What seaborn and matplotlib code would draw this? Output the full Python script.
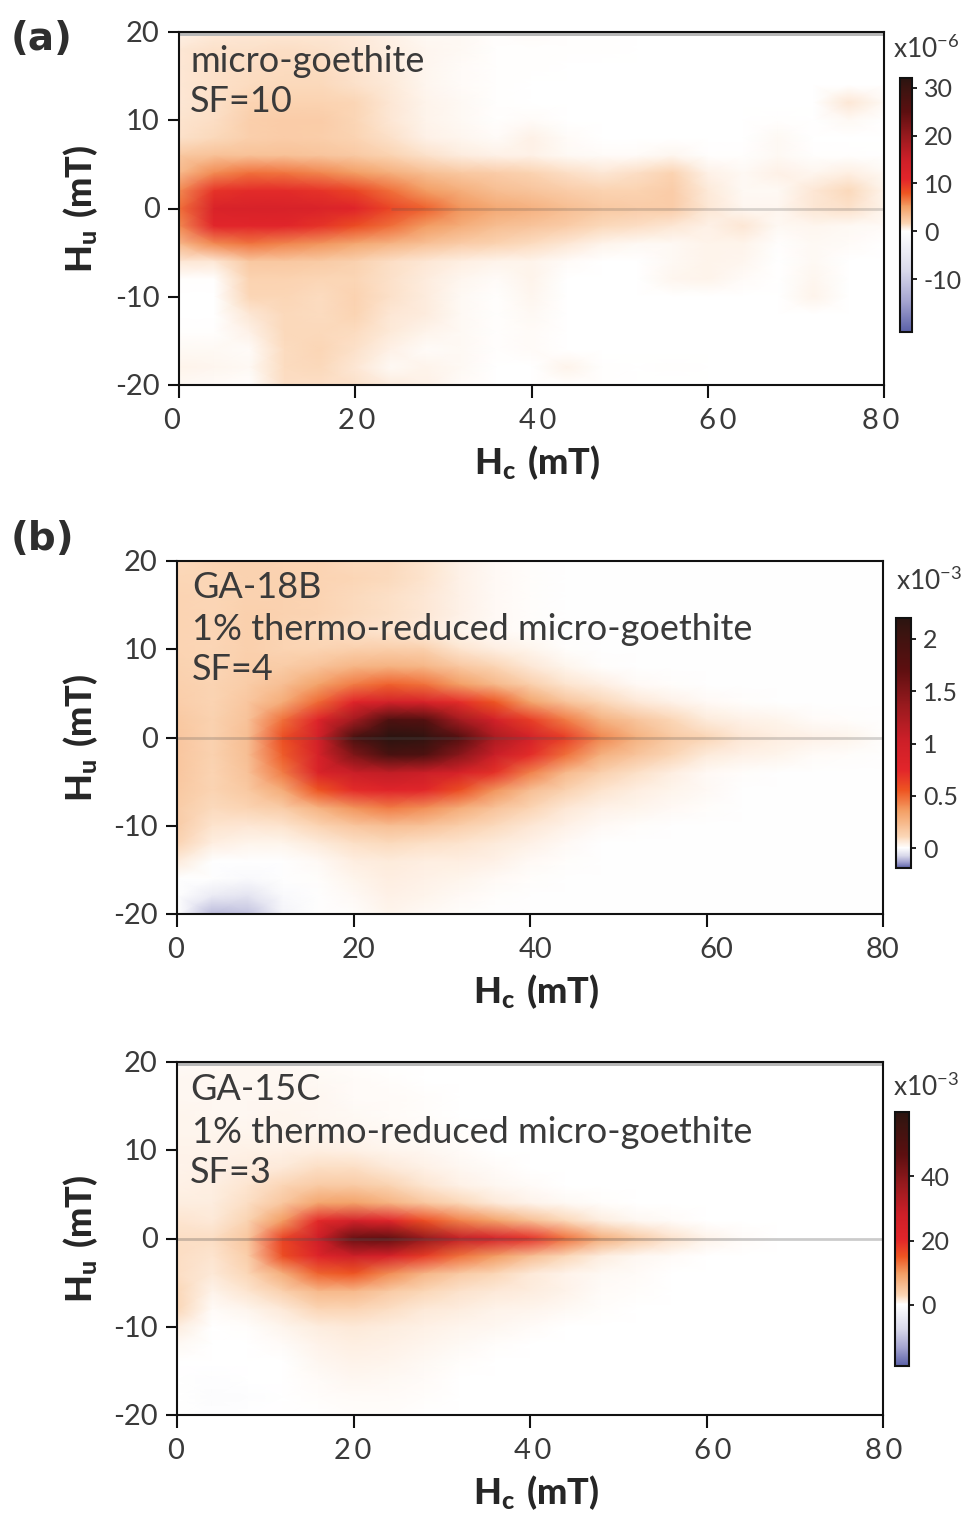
"""FORC diagrams of micro-goethite samples, drawn as smoothed seaborn heatmaps."""
import matplotlib
matplotlib.use('Agg')
import matplotlib.pyplot as plt
from matplotlib.colors import LinearSegmentedColormap
from matplotlib.transforms import ScaledTranslation
import numpy as np
import seaborn as sns

W, H = 963, 1515

HC_TICKS = [0, 20, 40, 60, 80]
HU_TICKS = [20, 10, 0, -10, -20]
HC_STEP = 4
HU_STEP = 2

# columns: Hc = 0, 4, ... 80 / rows: Hu = 20, 18, ... -20
GRID_A = [
    [.6, .9, 1.0, 1.0, 1.0, .9, .6, .3, .3, .1, .2, .1, .1, 0, 0, 0, 0, 0, 0, 0, 0],
    [1.0, 1.2, 1.2, 1.3, 1.2, 1.0, .7, .4, .3, .1, .1, .1, .1, 0, 0, 0, 0, 0, 0, 0, 0],
    [1.0, 1.2, 1.3, 1.4, 1.4, 1.1, .8, .4, .2, .1, .1, 0, 0, 0, 0, 0, 0, 0, 0, 0, 0],
    [1.0, 1.2, 1.4, 1.5, 1.5, 1.2, .9, .4, .2, .1, 0, 0, 0, 0, 0, 0, 0, 0, 0, 0, 0],
    [1.0, 1.2, 1.7, 1.8, 1.8, 1.6, 1.0, .5, .3, .1, 0, 0, 0, 0, 0, 0, 0, 0, 0, 1.0, .3],
    [1.1, 1.3, 2.0, 2.2, 2.2, 1.6, 1.0, .5, .3, .1, .2, 0, 0, 0, 0, 0, 0, .1, 0, .3, 0],
    [1.2, 1.5, 2.0, 2.2, 2.1, 1.7, 1.2, .6, .4, .2, .6, .2, 0, 0, 0, 0, 0, .3, 0, 0, 0],
    [2.5, 3.0, 3.0, 3.0, 2.8, 2.4, 1.8, 1.2, .8, .6, .6, .3, .2, .2, .4, .1, .1, .3, .1, .1, 0],
    [3.5, 6.0, 7.0, 6.8, 6.2, 5.2, 4.2, 3.2, 2.6, 2.2, 1.8, 1.3, 1.0, 1.3, 1.8, .6, .3, .6, .4, .7, .3],
    [6.0, 10.0, 10.5, 10.5, 10.0, 9.0, 7.0, 5.2, 4.2, 3.2, 2.8, 2.2, 1.8, 1.8, 2.2, .9, .3, .3, 1.0, 1.5, .5],
    [7.0, 12.5, 13.0, 13.0, 12.5, 11.5, 9.0, 7.5, 5.5, 4.5, 4.0, 3.2, 2.5, 2.2, 2.2, 1.0, .4, .4, 1.0, 1.2, .5],
    [6.0, 11.0, 11.0, 11.0, 10.0, 8.5, 7.0, 5.2, 4.2, 3.2, 2.8, 2.2, 1.5, 1.3, 1.0, .6, 1.0, .3, .4, .3, .2],
    [3.5, 6.0, 6.8, 6.2, 5.5, 4.6, 3.8, 3.0, 2.2, 1.8, 1.4, 1.0, .5, .3, .3, .5, .5, .1, .3, .2, 0],
    [1.0, 1.0, 2.6, 2.6, 2.3, 1.9, 1.3, 1.0, .7, .5, .5, .2, 0, 0, .3, .5, .4, 0, .3, 0, 0],
    [.1, .1, 1.8, 1.8, 1.6, 1.6, 1.2, .8, .4, .2, .5, 0, 0, 0, .4, .5, .2, 0, .4, 0, 0],
    [0, 0, 1.6, 1.6, 1.4, 1.8, 1.2, .8, .3, .1, .4, 0, 0, 0, 0, 0, 0, 0, .5, 0, 0],
    [0, 0, 1.0, 1.5, 1.4, 1.7, 1.0, .8, .3, .1, .3, 0, 0, 0, 0, 0, 0, 0, 0, 0, 0],
    [.1, .1, .6, 1.5, 1.5, 1.4, .9, .5, .3, .1, .2, 0, 0, 0, 0, 0, 0, 0, 0, 0, 0],
    [.3, .3, .2, 1.4, 1.6, 1.2, .6, .2, .3, .1, .2, 0, 0, 0, 0, 0, 0, 0, 0, 0, 0],
    [.5, .4, .3, 1.4, 1.5, 1.0, .3, .5, .3, 0, 0, .5, .1, 0, .1, 0, 0, 0, 0, 0, 0],
    [.3, .2, .1, 1.3, 1.3, 1.2, .8, .6, .2, 0, 0, .1, .1, 0, 0, 0, 0, 0, 0, 0, 0],
]

GRID_B = [
    [.10, .12, .13, .12, .12, .10, .10, .08, .04, .02, .01, 0, 0, 0, 0, 0, 0, 0, 0, 0, 0],
    [.11, .11, .13, .13, .12, .11, .10, .08, .04, .02, .01, 0, 0, 0, 0, 0, 0, 0, 0, 0, 0],
    [.12, .11, .13, .13, .12, .10, .09, .07, .04, .02, .01, 0, 0, 0, 0, 0, 0, 0, 0, 0, 0],
    [.12, .11, .14, .13, .12, .10, .09, .07, .04, .02, .01, 0, 0, 0, 0, 0, 0, 0, 0, 0, 0],
    [.12, .11, .14, .12, .10, .09, .08, .06, .03, .02, .01, 0, 0, 0, 0, 0, 0, 0, 0, 0, 0],
    [.12, .11, .14, .12, .12, .14, .15, .14, .08, .05, .03, .01, 0, 0, 0, 0, 0, 0, 0, 0, 0],
    [.13, .11, .15, .16, .20, .26, .28, .26, .18, .12, .07, .03, .01, 0, 0, 0, 0, 0, 0, 0, 0],
    [.14, .12, .16, .22, .34, .45, .52, .48, .36, .25, .15, .08, .05, .02, .01, 0, 0, 0, 0, 0, 0],
    [.15, .12, .18, .30, .50, .78, .95, .90, .72, .55, .34, .20, .11, .07, .04, .02, .01, 0, 0, 0, 0],
    [.17, .13, .20, .48, .80, 1.30, 1.85, 1.80, 1.30, .95, .65, .45, .28, .19, .11, .06, .04, .03, .015, .01, 0],
    [.18, .13, .22, .58, .95, 1.90, 2.20, 2.15, 1.80, 1.25, .95, .65, .42, .28, .17, .11, .07, .05, .04, .03, .01],
    [.18, .13, .22, .53, .90, 1.50, 1.90, 1.85, 1.45, 1.05, .72, .48, .28, .19, .11, .06, .04, .03, .015, .01, 0],
    [.18, .12, .20, .45, .85, 1.05, 1.10, 1.05, .90, .70, .44, .24, .14, .09, .05, .02, .01, 0, 0, 0, 0],
    [.17, .12, .17, .30, .55, .72, .78, .74, .58, .38, .22, .13, .08, .05, .03, .02, 0, 0, 0, 0, 0],
    [.16, .10, .12, .16, .27, .38, .45, .40, .30, .20, .12, .07, .04, .03, .02, .01, 0, 0, 0, 0, 0],
    [.16, .08, .07, .08, .12, .18, .22, .20, .15, .10, .07, .04, .02, .01, 0, 0, 0, 0, 0, 0, 0],
    [.12, .05, .03, .03, .06, .09, .10, .09, .08, .06, .04, .02, 0, 0, 0, 0, 0, 0, 0, 0, 0],
    [.06, 0, 0, 0, .02, .05, .06, .05, .05, .04, .02, .01, 0, 0, 0, 0, 0, 0, 0, 0, 0],
    [0, 0, -.01, 0, .01, .03, .05, .04, .03, .02, .01, 0, 0, 0, 0, 0, 0, 0, 0, 0, 0],
    [0, -.04, -.05, -.01, 0, .02, .04, .03, .02, .01, 0, 0, 0, 0, 0, 0, 0, 0, 0, 0, 0],
    [0, -.11, -.10, -.02, 0, .01, .03, .02, .01, 0, 0, 0, 0, 0, 0, 0, 0, 0, 0, 0, 0],
]

GRID_C = [
    [.3, .5, .6, .5, .4, .2, .1, .1, 0, 0, 0, 0, 0, 0, 0, 0, 0, 0, 0, 0, 0],
    [.6, .7, .7, .6, .5, .3, .2, .1, .1, 0, 0, 0, 0, 0, 0, 0, 0, 0, 0, 0, 0],
    [.7, .7, .7, .7, .6, .4, .3, .2, .1, 0, 0, 0, 0, 0, 0, 0, 0, 0, 0, 0, 0],
    [.8, .7, .7, .8, .7, .5, .4, .2, .1, 0, 0, 0, 0, 0, 0, 0, 0, 0, 0, 0, 0],
    [.9, .8, .9, .9, .8, .7, .5, .3, .2, .1, 0, 0, 0, 0, 0, 0, 0, 0, 0, 0, 0],
    [1.0, 1.0, 1.1, 1.2, 1.3, 1.2, .9, .6, .3, .1, 0, 0, 0, 0, 0, 0, 0, 0, 0, 0, 0],
    [1.0, 1.2, 1.4, 1.8, 2.5, 2.5, 1.8, 1.2, .6, .3, .1, 0, 0, 0, 0, 0, 0, 0, 0, 0, 0],
    [1.2, 1.3, 2.0, 3.2, 4.5, 4.5, 3.5, 2.0, 1.2, .6, .3, .1, 0, 0, 0, 0, 0, 0, 0, 0, 0],
    [1.5, 1.5, 2.5, 5.0, 9.0, 9.5, 7.5, 5.0, 3.0, 1.8, 1.0, .5, .2, .1, 0, 0, 0, 0, 0, 0, 0],
    [2.0, 1.8, 3.5, 10.0, 20.0, 26.0, 22.0, 16.0, 12.0, 9.5, 6.0, 3.0, 1.5, .7, .3, .1, .1, 0, 0, 0, 0],
    [2.5, 2.5, 5.0, 17.0, 28.0, 45.0, 46.0, 38.0, 30.0, 25.0, 19.0, 13.0, 8.0, 4.5, 2.2, 1.0, .4, .1, .1, .1, .1],
    [2.5, 2.0, 4.0, 16.0, 22.0, 28.0, 25.0, 18.0, 13.0, 10.0, 6.0, 3.0, 1.5, .7, .3, .1, .1, 0, 0, 0, 0],
    [2.5, 1.8, 3.0, 8.0, 14.0, 15.0, 11.0, 7.0, 4.5, 3.0, 1.8, 1.0, .5, .3, .1, .1, 0, 0, 0, 0, 0],
    [3.0, 1.0, 2.0, 3.8, 6.5, 6.5, 4.5, 3.0, 2.2, 1.8, 1.5, 1.0, .4, .2, .1, 0, 0, 0, 0, 0, 0],
    [3.0, .3, .8, 1.8, 3.2, 3.2, 2.6, 1.8, 1.5, 1.0, .8, .5, .2, .1, 0, 0, 0, 0, 0, 0, 0],
    [1.5, .1, .2, .8, 1.5, 1.7, 1.4, 1.2, .9, .7, .3, .1, 0, 0, 0, 0, 0, 0, 0, 0, 0],
    [.5, 0, .1, .3, 1.0, 1.3, 1.1, .8, .5, .2, .1, 0, 0, 0, 0, 0, 0, 0, 0, 0, 0],
    [.1, 0, 0, .1, .7, 1.0, .8, .5, .2, .1, 0, 0, 0, 0, 0, 0, 0, 0, 0, 0, 0],
    [0, -.2, 0, .1, .4, .7, .5, .3, .1, 0, 0, 0, 0, 0, 0, 0, 0, 0, 0, 0, 0],
    [0, -.5, -.2, .1, .2, .4, .3, .2, .1, 0, 0, 0, 0, 0, 0, 0, 0, 0, 0, 0, 0],
    [0, -.2, 0, 0, .1, .2, .2, .1, 0, 0, 0, 0, 0, 0, 0, 0, 0, 0, 0, 0, 0],
]

# colour bar stops: fraction of the top value -> colour, and fraction of the bottom value -> colour
POS_STOPS = [(0, '#ffffff'), (.03, '#fde8d6'), (.05, '#fbd6b6'), (.16, '#f3a066'), (.25, '#ee5522'),
             (.34, '#e2252a'), (.47, '#cc1f28'), (.62, '#981a1e'), (.78, '#5c0f10'), (.94, '#3a1410'),
             (1, '#2a1410')]
NEG_STOPS = [(0, '#ffffff'), (.4, '#d8d8ea'), (.7, '#a4a4d0'), (1, '#5a60a8')]

PANELS = [
    {'grid': GRID_A, 'box': (179, 32, 884, 385), 'cbar': (900, 78, 912, 332), 'vmin': -21, 'vmax': 32,
     'cticks': [-10, 0, 10, 20, 30], 'clabels': ['-10', '0', '10', '20', '30'], 'exp': '-6',
     'exp_at': (893, 58), 'notes': [('micro-goethite', 190, 72), ('SF=10', 190, 112)],
     'xoff': [-7, 1, 6, 10, -3], 'spaced': True, 'line_from': 24, 'line_alpha': .22, 'band': True},
    {'grid': GRID_B, 'box': (177, 561, 883, 914), 'cbar': (896, 618, 911, 868), 'vmin': -.19, 'vmax': 2.2,
     'cticks': [0, .5, 1, 1.5, 2], 'clabels': ['0', '0.5', '1', '1.5', '2'], 'exp': '-3',
     'exp_at': (896, 590), 'notes': [('GA-18B', 192, 598), ('1% thermo-reduced micro-goethite', 192, 640),
                                     ('SF=4', 192, 680)],
     'xoff': [-1, 5, 6, 10, -1], 'spaced': False, 'line_from': 0, 'line_alpha': .25, 'band': False},
    {'grid': GRID_C, 'box': (177, 1062, 883, 1415), 'cbar': (895, 1112, 909, 1366), 'vmin': -19, 'vmax': 60,
     'cticks': [0, 20, 40], 'clabels': ['0', '20', '40'], 'exp': '-3',
     'exp_at': (893, 1096), 'notes': [('GA-15C', 190, 1100), ('1% thermo-reduced micro-goethite', 192, 1143),
                                      ('SF=3', 190, 1183)],
     'xoff': [-1, -1, 3, 6, 1], 'spaced': True, 'line_from': 0, 'line_alpha': .3, 'band': True},
]

sns.set_theme(style='ticks')
plt.rcParams.update({
    'font.family': ['Lato', 'DejaVu Sans'],
    'mathtext.fontset': 'custom',
    'mathtext.rm': 'Lato',
    'mathtext.bf': 'Lato:black',
    'text.color': '#2e2e2e',
    'xtick.color': '#111111',
    'ytick.color': '#111111',
})
TEXT_LIGHT = '#3a3a3a'


def panel_cmap(vmin, vmax):
    """Colour scale with white at zero, for a panel's own value range."""
    span = vmax - vmin
    stops = [((vmin * f - vmin) / span, c) for f, c in reversed(NEG_STOPS)]
    stops += [((vmax * f - vmin) / span, c) for f, c in POS_STOPS[1:]]
    return LinearSegmentedColormap.from_list('forc', stops, N=512)


def pixel_axes(fig, box):
    x0, y0, x1, y1 = box
    return fig.add_axes([x0 / W, 1 - y1 / H, (x1 - x0) / W, (y1 - y0) / H])


def draw_panel(fig, p):
    ax = pixel_axes(fig, p['box'])
    cax = pixel_axes(fig, p['cbar'])
    grid = np.array(p['grid'], dtype=float)

    sns.heatmap(grid, ax=ax, cbar_ax=cax, cmap=panel_cmap(p['vmin'], p['vmax']),
                vmin=p['vmin'], vmax=p['vmax'], shading='gouraud',
                xticklabels=False, yticklabels=False,
                cbar_kws={'ticks': p['cticks']})

    n_rows, n_cols = grid.shape
    ax.set_xlim(0, n_cols - 1)
    ax.set_ylim(n_rows - 1, 0)

    # the measurement artefact along Hu = 0, and the grey first row on top
    zero_row = (20 - 0) / HU_STEP
    ax.plot([p['line_from'] / HC_STEP, n_cols - 1], [zero_row, zero_row], color='#555555',
            alpha=p['line_alpha'], lw=2, solid_capstyle='butt')
    if p['band']:
        ax.axhline(0, color='#b8b8b8', lw=5)

    for spine in ax.spines.values():
        spine.set_visible(True)
        spine.set_linewidth(1.5)
        spine.set_color('#111111')

    ax.set_xticks([v / HC_STEP for v in HC_TICKS])
    if p['spaced']:
        ax.set_xticklabels([str(v).replace('', '\u2009').strip('\u2009') for v in HC_TICKS],
                           fontsize=21, color=TEXT_LIGHT)
    else:
        ax.set_xticklabels([str(v) for v in HC_TICKS], fontsize=21, color=TEXT_LIGHT)
    ax.set_yticks([(20 - v) / HU_STEP for v in HU_TICKS])
    ax.set_yticklabels([str(v) for v in HU_TICKS], fontsize=21, color=TEXT_LIGHT, rotation=0, va='center')
    ax.tick_params(axis='x', length=9.5, width=1.5, pad=7)
    ax.tick_params(axis='y', length=8, width=1.5, pad=6)

    for lab, dx in zip(ax.get_xticklabels(), p['xoff']):
        lab.set_transform(lab.get_transform() + ScaledTranslation(dx / 100, 0, fig.dpi_scale_trans))
    for lab in ax.get_yticklabels():
        lab.set_transform(lab.get_transform() + ScaledTranslation(0, -.02, fig.dpi_scale_trans))

    ax.set_xlabel(r'$\mathbf{H_{c}\ (mT)}$', fontsize=26)
    ax.set_ylabel(r'$\mathbf{H_{u}\ (mT)}$', fontsize=26)
    x0, y0, x1, y1 = p['box']
    ax.xaxis.set_label_coords(.508, -58 / (y1 - y0))
    ax.yaxis.set_label_coords((100 - x0) / (x1 - x0), .5)

    cbar = ax.collections[0].colorbar
    cbar.outline.set_visible(True)
    cbar.outline.set_linewidth(1.5)
    cbar.outline.set_edgecolor('#111111')
    cbar.set_ticklabels(p['clabels'])
    cax.tick_params(length=3.5, width=1.3, labelsize=18, pad=5, labelcolor=TEXT_LIGHT)

    fig.text(p['exp_at'][0] / W, 1 - p['exp_at'][1] / H, 'x10$^{%s}$' % p['exp'], fontsize=19,
             color=TEXT_LIGHT, va='baseline')
    for text, x, y in p['notes']:
        fig.text(x / W, 1 - y / H, text, fontsize=26, color=TEXT_LIGHT, va='baseline')


fig = plt.figure(figsize=(W / 100, H / 100), dpi=100, facecolor='white')
for panel in PANELS:
    draw_panel(fig, panel)

fig.text(11 / W, 1 - 50 / H, '(a)', fontsize=28, fontweight='bold', family='DejaVu Sans', va='baseline')
fig.text(11 / W, 1 - 550 / H, '(b)', fontsize=28, fontweight='bold', family='DejaVu Sans', va='baseline')

fig.savefig('out.png', dpi=100, facecolor='white')
plt.close(fig)
